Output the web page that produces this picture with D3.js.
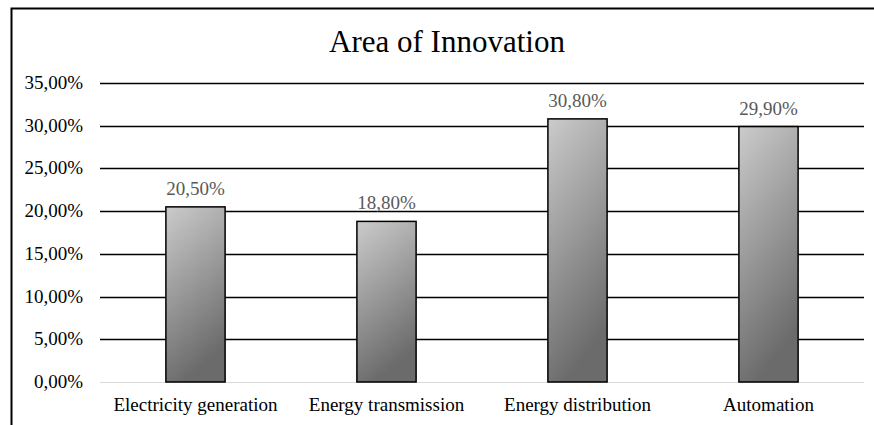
<!DOCTYPE html>
<html>
<head>
<meta charset="utf-8">
<script src="https://cdn.jsdelivr.net/npm/d3@7"></script>
</head>
<body style="margin:0">
<script>
const categories = ['Electricity generation', 'Energy transmission', 'Energy distribution', 'Automation'];
const values = [0.205, 0.188, 0.308, 0.299];
const yTicks = [0, 0.05, 0.10, 0.15, 0.20, 0.25, 0.30, 0.35];

const width = 874, height = 425;
const margin = { top: 83, right: 10, bottom: 43, left: 100 };
const serif = '"Liberation Serif"';

const fmt = v => (v * 100).toFixed(2).replace('.', ',') + '%';

const svg = d3.select('body').append('svg')
    .attr('width', width)
    .attr('height', height);

const defs = svg.append('defs');
const grad = defs.append('linearGradient')
    .attr('id', 'barGrad')
    .attr('x1', '0%').attr('y1', '0%')
    .attr('x2', '30%').attr('y2', '100%');
grad.append('stop').attr('offset', '0%').attr('stop-color', '#cbcbcb');
grad.append('stop').attr('offset', '100%').attr('stop-color', '#6b6b6b');

// chart frame (left and top edges visible)
svg.append('path')
    .attr('d', 'M11.5,' + height + 'V8.5H' + width)
    .attr('fill', 'none')
    .attr('stroke', '#000')
    .attr('stroke-width', 2);

const x = d3.scaleBand()
    .domain(categories)
    .range([margin.left, width - margin.right])
    .paddingInner(0.69)
    .paddingOuter(0.345);

const y = d3.scaleLinear()
    .domain([0, 0.35])
    .range([height - margin.bottom, margin.top]);

// title
svg.append('text')
    .attr('x', 447)
    .attr('y', 52)
    .attr('text-anchor', 'middle')
    .style('font-family', serif)
    .style('font-size', '31px')
    .text('Area of Innovation');

// gridlines
svg.append('g')
  .selectAll('line')
  .data(yTicks)
  .enter().append('line')
    .attr('x1', margin.left)
    .attr('x2', width - margin.right)
    .attr('y1', d => Math.round(y(d)) + 0.5)
    .attr('y2', d => Math.round(y(d)) + 0.5)
    .attr('stroke', d => d === 0 ? '#d9d9d9' : '#000')
    .attr('stroke-width', d => d === 0 ? 1.2 : 1.3);

// y axis labels
svg.append('g')
  .selectAll('text')
  .data(yTicks)
  .enter().append('text')
    .attr('x', 83)
    .attr('y', d => y(d) + 6)
    .attr('text-anchor', 'end')
    .style('font-family', serif)
    .style('font-size', '19px')
    .attr('fill', '#000')
    .text(fmt);

// bars
svg.append('g')
  .selectAll('rect')
  .data(values)
  .enter().append('rect')
    .attr('x', (d, i) => x(categories[i]))
    .attr('y', d => y(d))
    .attr('width', x.bandwidth())
    .attr('height', d => y(0) - y(d))
    .attr('fill', 'url(#barGrad)')
    .attr('stroke', '#000')
    .attr('stroke-width', 1.5);

// value labels
svg.append('g')
  .selectAll('text')
  .data(values)
  .enter().append('text')
    .attr('x', (d, i) => x(categories[i]) + x.bandwidth() / 2)
    .attr('y', d => y(d) - 12)
    .attr('text-anchor', 'middle')
    .style('font-family', serif)
    .style('font-size', '19px')
    .attr('fill', '#595959')
    .text(fmt);

// category labels
svg.append('g')
  .selectAll('text')
  .data(categories)
  .enter().append('text')
    .attr('x', d => x(d) + x.bandwidth() / 2)
    .attr('y', 411)
    .attr('text-anchor', 'middle')
    .style('font-family', serif)
    .style('font-size', '19px')
    .attr('fill', '#000')
    .text(d => d);
</script>
</body>
</html>
